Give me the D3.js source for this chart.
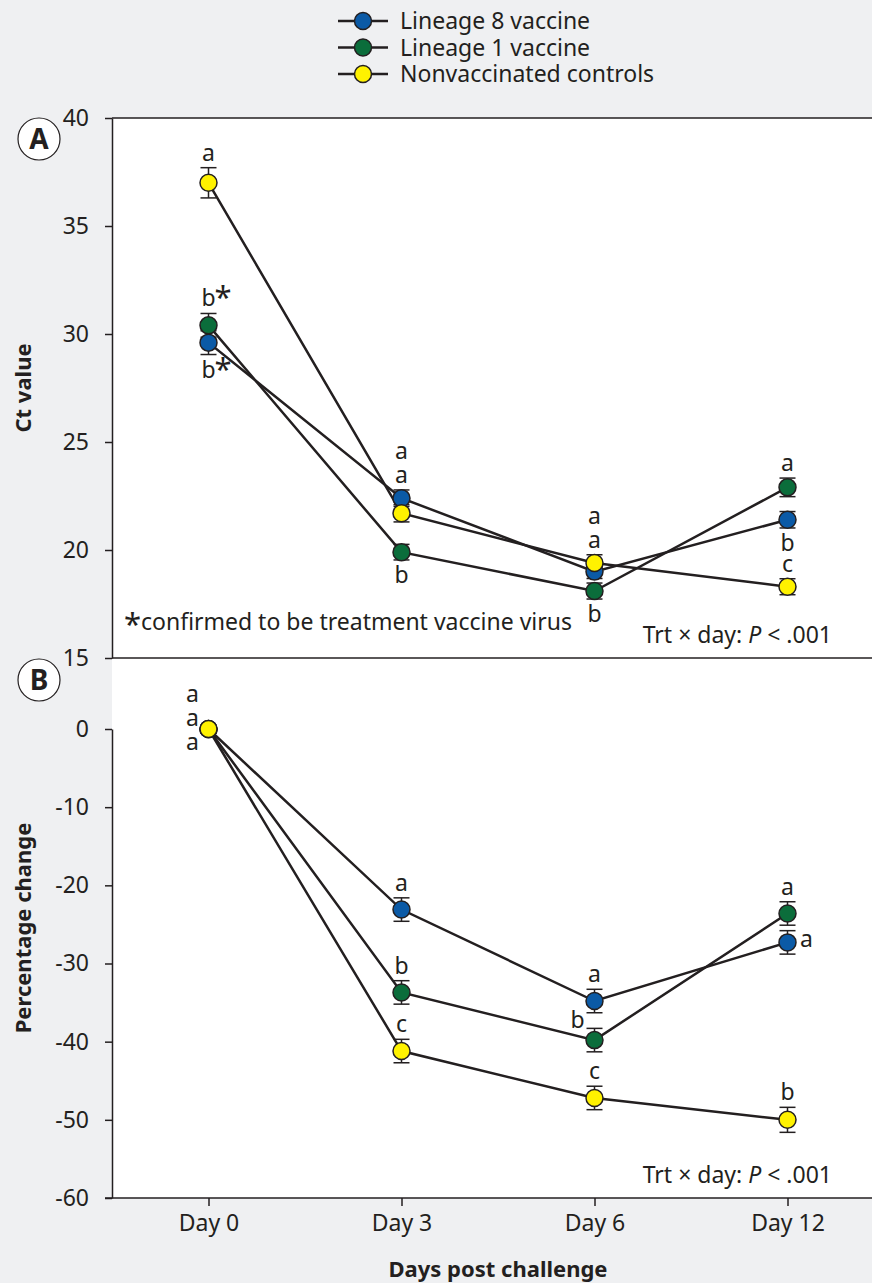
<!DOCTYPE html>
<html>
<head>
<meta charset="utf-8">
<script src="https://cdn.jsdelivr.net/npm/d3@7"></script>
<style>
  html, body { margin: 0; padding: 0; background: #eff0f2; }
  svg { display: block; font-family: 'Noto Sans', sans-serif; }
  text { fill: #231f20; }
</style>
</head>
<body>
<svg id="chart" width="872" height="1283"></svg>
<script>
(function() {
  'use strict';

  var days = ['Day 0', 'Day 3', 'Day 6', 'Day 12'];
  var seriesNames = ['Lineage 8 vaccine', 'Lineage 1 vaccine', 'Nonvaccinated controls'];
  var seriesColors = ['#0b5aa6', '#0b6d3b', '#fff200'];

  // panel A - Ct value
  var ctTicks = [15, 20, 25, 30, 35, 40];
  var ctLineage8 = [29.6, 22.4, 19.0, 21.4];
  var ctLineage1 = [30.4, 19.9, 18.1, 22.9];
  var ctControls = [37.0, 21.7, 19.4, 18.3];
  var ctErrLineage8 = [0.55, 0.38, 0.32, 0.38];
  var ctErrLineage1 = [0.55, 0.36, 0.37, 0.43];
  var ctErrControls = [0.7, 0.4, 0.38, 0.37];
  // [series, day, letter, placement]
  var ctLetters = [
    [0, 0, 'b*', 'below'], [1, 0, 'b*', 'above'], [2, 0, 'a', 'above'],
    [0, 1, 'a', 'above'], [2, 1, 'a', 'above'], [1, 1, 'b', 'below'],
    [2, 2, 'a', 'above'], [0, 2, 'a', 'above'], [1, 2, 'b', 'below'],
    [1, 3, 'a', 'above'], [0, 3, 'b', 'below'], [2, 3, 'c', 'above']
  ];

  // panel B - percentage change
  var pctTicks = [0, -10, -20, -30, -40, -50, -60];
  var pctLineage8 = [0, -23.1, -34.8, -27.3];
  var pctLineage1 = [0, -33.7, -39.8, -23.6];
  var pctControls = [0, -41.2, -47.2, -50.0];
  var pctErrLineage8 = [0, 1.5, 1.5, 1.5];
  var pctErrLineage1 = [0, 1.5, 1.5, 1.5];
  var pctErrControls = [0, 1.5, 1.5, 1.6];
  var pctLetters = [
    [0, 0, 'a', 'left'], [1, 0, 'a', 'left'], [2, 0, 'a', 'left'],
    [0, 1, 'a', 'above'], [1, 1, 'b', 'above'], [2, 1, 'c', 'above'],
    [0, 2, 'a', 'above'], [1, 2, 'b', 'leftAbove'], [2, 2, 'c', 'above'],
    [1, 3, 'a', 'above'], [0, 3, 'a', 'right'], [2, 3, 'b', 'above']
  ];

  var ink = '#231f20';
  var fs = 23;
  var svg = d3.select('#chart');

  var x = d3.scalePoint().domain(days).range([112, 884]).padding(0.5);
  var yA = d3.scaleLinear().domain([15, 40]).range([658, 118]);
  var yB = d3.scaleLinear().domain([-60, 0]).range([1198, 729]);

  svg.append('rect')
    .attr('x', x.range()[0]).attr('y', yA(40))
    .attr('width', 872 - x.range()[0]).attr('height', yB(-60) - yA(40))
    .attr('fill', '#fff');

  function drawPanel(y, ticks, values, errs, letters) {
    var g = svg.append('g');
    var series = values.map(function(v, i) {
      return v.map(function(d, j) {
        return {day: days[j], value: d, err: errs[i][j], s: i};
      });
    });

    g.append('g')
      .attr('transform', 'translate(' + x.range()[0] + ',0)')
      .call(d3.axisLeft(y).tickValues(ticks).tickSize(7).tickSizeOuter(0).tickPadding(16)
        .tickFormat(function(d) { return String(d); }))
      .call(function(a) {
        a.select('.domain').attr('stroke', ink).attr('stroke-width', 1.5);
        a.selectAll('.tick line').attr('stroke', ink).attr('stroke-width', 1.5);
        a.selectAll('.tick text').attr('font-size', fs).attr('fill', ink)
          .attr('font-family', "'Noto Sans', sans-serif");
      });

    var line = d3.line()
      .x(function(d) { return x(d.day); })
      .y(function(d) { return y(d.value); });

    g.selectAll('path.series').data(series).enter().append('path')
      .attr('class', 'series')
      .attr('d', line)
      .attr('fill', 'none')
      .attr('stroke', ink)
      .attr('stroke-width', 2.5);

    var pts = d3.merge(series).filter(function(d) { return d.err > 0; });
    var eb = g.selectAll('g.err').data(pts).enter().append('g')
      .attr('class', 'err')
      .attr('stroke', ink)
      .attr('stroke-width', 1.5);
    eb.append('line')
      .attr('x1', function(d) { return x(d.day); })
      .attr('x2', function(d) { return x(d.day); })
      .attr('y1', function(d) { return y(d.value + d.err); })
      .attr('y2', function(d) { return y(d.value - d.err); });
    [1, -1].forEach(function(sign) {
      eb.append('line')
        .attr('x1', function(d) { return x(d.day) - 8; })
        .attr('x2', function(d) { return x(d.day) + 8; })
        .attr('y1', function(d) { return y(d.value + sign * d.err); })
        .attr('y2', function(d) { return y(d.value + sign * d.err); });
    });

    g.selectAll('circle.pt').data(d3.merge(series)).enter().append('circle')
      .attr('class', 'pt')
      .attr('cx', function(d) { return x(d.day); })
      .attr('cy', function(d) { return y(d.value); })
      .attr('r', 8.5)
      .attr('fill', function(d) { return seriesColors[d.s]; })
      .attr('stroke', ink)
      .attr('stroke-width', 1.5);

    // significance letters
    days.forEach(function(day, j) {
      var here = letters.filter(function(l) { return l[1] === j; }).map(function(l) {
        var p = series[l[0]][j];
        return {txt: l[2], pos: l[3], px: x(day), py: y(p.value),
          top: y(p.value + p.err), bot: y(p.value - p.err)};
      });

      // stack 'above' labels whose points sit close together
      var above = here.filter(function(l) { return l.pos === 'above'; })
        .sort(function(a, b) { return a.top - b.top; });
      var clusters = [];
      above.forEach(function(l) {
        var c = clusters[clusters.length - 1];
        if (c && l.top - c[0].top < 20) c.push(l); else clusters.push([l]);
      });
      clusters.forEach(function(c) {
        c.forEach(function(l, k) { l.lx = l.px; l.ly = c[0].top - 7 - 24 * k; });
      });

      var left = here.filter(function(l) { return l.pos === 'left'; });
      left.forEach(function(l, k) {
        l.lx = l.px - 16;
        l.ly = l.py - 3 + 24 * (k - (left.length - 1) / 2);
      });

      here.forEach(function(l) {
        if (l.pos === 'below') { l.lx = l.px; l.ly = l.bot + 23; }
        if (l.pos === 'right') { l.lx = l.px + 19; l.ly = l.py + 5; }
        if (l.pos === 'leftAbove') { l.lx = l.px - 17; l.ly = l.top; }
        var star = l.txt.indexOf('*') >= 0;
        g.append('text')
          .attr('x', l.lx).attr('y', l.ly)
          .attr('text-anchor', 'middle')
          .attr('font-size', fs)
          .text(l.txt.replace('*', ''));
        if (star) {
          g.append('text')
            .attr('x', l.lx + 6).attr('y', l.ly + 2)
            .attr('font-size', 31)
            .text('*');
        }
      });
    });

    g.append('text')
      .attr('x', 832).attr('y', y.range()[0] - 15)
      .attr('text-anchor', 'end')
      .attr('font-size', fs)
      .call(function(t) {
        t.append('tspan').text('Trt \u00d7 day: ');
        t.append('tspan').attr('font-style', 'italic').text('P');
        t.append('tspan').text(' < .001');
      });

    return g;
  }

  drawPanel(yA, ctTicks, [ctLineage8, ctLineage1, ctControls],
    [ctErrLineage8, ctErrLineage1, ctErrControls], ctLetters);
  drawPanel(yB, pctTicks, [pctLineage8, pctLineage1, pctControls],
    [pctErrLineage8, pctErrLineage1, pctErrControls], pctLetters);

  // frame lines: top of A, divider between panels
  [yA(40), yA(15)].forEach(function(yy) {
    svg.append('line')
      .attr('x1', x.range()[0]).attr('x2', 872)
      .attr('y1', yy).attr('y2', yy)
      .attr('stroke', ink).attr('stroke-width', 1.5);
  });

  svg.append('g')
    .attr('transform', 'translate(0,' + yB(-60) + ')')
    .call(d3.axisBottom(x).tickSize(8).tickSizeOuter(0).tickPadding(9))
    .call(function(a) {
      a.select('.domain').attr('stroke', ink).attr('stroke-width', 1.5)
        .attr('d', 'M105,0H872');
      a.selectAll('.tick line').attr('stroke', ink).attr('stroke-width', 1.5);
      a.selectAll('.tick text').attr('font-size', fs).attr('fill', ink)
        .attr('font-family', "'Noto Sans', sans-serif");
    });

  // footnote in panel A
  svg.append('text').attr('x', 124).attr('y', 635).attr('font-size', 31).text('*');
  svg.append('text').attr('x', 141).attr('y', 630).attr('font-size', fs)
    .text('confirmed to be treatment vaccine virus');

  // axis titles
  svg.append('text')
    .attr('transform', 'translate(31,' + (yA(15) + yA(40)) / 2 + ') rotate(-90)')
    .attr('text-anchor', 'middle').attr('font-size', 22).attr('font-weight', 'bold')
    .text('Ct value');
  svg.append('text')
    .attr('transform', 'translate(31,' + (yA(15) + yB(-60)) / 2 + ') rotate(-90)')
    .attr('text-anchor', 'middle').attr('font-size', 22).attr('font-weight', 'bold')
    .text('Percentage change');
  svg.append('text')
    .attr('x', (x.range()[0] + x.range()[1]) / 2).attr('y', 1277)
    .attr('text-anchor', 'middle').attr('font-size', 22).attr('font-weight', 'bold')
    .text('Days post challenge');

  // panel badges
  [['A', yA(40) + 21], ['B', yA(15) + 22]].forEach(function(b) {
    svg.append('circle').attr('cx', 39).attr('cy', b[1]).attr('r', 21)
      .attr('fill', '#fff').attr('stroke', ink).attr('stroke-width', 1.2);
    svg.append('text').attr('x', 39).attr('y', b[1] + 10)
      .attr('text-anchor', 'middle').attr('font-size', 28).attr('font-weight', 'bold')
      .text(b[0]);
  });

  // legend
  var leg = svg.append('g').selectAll('g').data(seriesNames).enter().append('g')
    .attr('transform', function(d, i) { return 'translate(338,' + (21 + i * 26.5) + ')'; });
  leg.append('line').attr('x1', 0).attr('x2', 50)
    .attr('stroke', ink).attr('stroke-width', 2.5);
  leg.append('circle').attr('cx', 25).attr('r', 8.5)
    .attr('fill', function(d, i) { return seriesColors[i]; })
    .attr('stroke', ink).attr('stroke-width', 1.5);
  leg.append('text').attr('x', 62).attr('y', 8).attr('font-size', fs)
    .text(function(d) { return d; });
})();
</script>
</body>
</html>
